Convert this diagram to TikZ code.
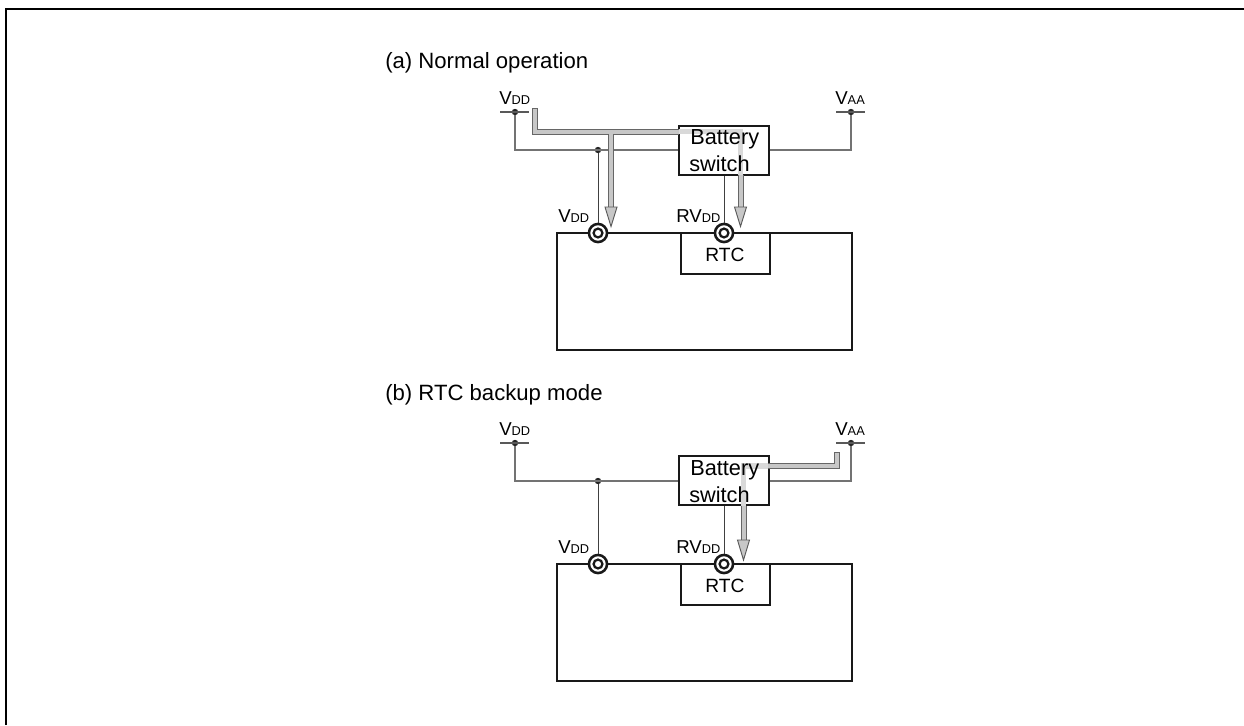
\documentclass[tikz,border=0pt]{standalone}
\usepackage{fontspec}
\setmainfont{Liberation Sans}
\newcommand{\bigsz}{\fontsize{14}{16}\selectfont}
\newcommand{\smsz}{\fontsize{9.6}{11}\selectfont}
\newcommand{\vname}[2]{{\bigsz #1\smsz #2}}
\tikzset{
  frameline/.style={line width=1.7pt,black},
  title/.style={anchor=base west,inner sep=0pt,font=\fontsize{16.6}{20}\selectfont},
  pinlabel/.style={anchor=base west,inner sep=0pt},
  boxtext/.style={anchor=base west,inner sep=0pt,font=\fontsize{16.3}{20}\selectfont},
  rtctext/.style={anchor=base,inner sep=0pt,font=\fontsize{14.4}{18}\selectfont},
  solidbox/.style={draw=black!90,line width=1.6pt,fill=white,inner sep=0pt,rectangle},
  wire/.style={draw=black!55,line width=1pt},
  thinwire/.style={draw=black!75,line width=0.7pt},
  stub/.style={draw=black!65,line width=0.8pt},
  dotnode/.style={circle,fill=black!85,inner sep=0pt,minimum size=4.8pt},
  ringouter/.style={circle,draw=black!90,line width=1.9pt,fill=white,inner sep=0pt,minimum size=13.6pt},
  ringinner/.style={circle,draw=black!90,line width=1.7pt,fill=white,inner sep=0pt,minimum size=6.6pt},
  pipeout/.style={draw=black!60,line width=4.5pt,line join=miter},
  pipein/.style={draw=black!22,line width=3pt,line join=miter},
  pipelight/.style={draw=black!15,line width=3.8pt,line join=miter},
  headst/.style={draw=black!65,fill=black!22,line width=0.7pt,line join=miter},
}
\begin{document}
\begin{tikzpicture}[x=0.75pt,y=-0.75pt]
\useasboundingbox (0,0) rectangle (1244,725);
\coordinate (fa) at (6,725);
\coordinate (fb) at (6,9);
\coordinate (fc) at (1244,9);
\draw[frameline] (fa) -- (fb) -- (fc);

% ---------- (a) ----------
\node[title] (ta) at (385,68) {(a) Normal operation};
\node[pinlabel] (lvdd1) at (499,104.5) {\vname{V}{DD}};
\node[pinlabel] (lvaa1) at (835,104.5) {\vname{V}{AA}};
\coordinate (sl1) at (500,112); \coordinate (sr1) at (529,112);
\coordinate (tl1) at (836,112); \coordinate (tr1) at (865,112);
\node[dotnode] (d1) at (515,112) {};
\node[dotnode] (e1) at (851,112) {};
\draw[stub] (sl1) -- (sr1);
\draw[stub] (tl1) -- (tr1);
\node[solidbox,minimum width=67.5pt,minimum height=37pt,anchor=north west] (bs1) at (677.5,124.5) {};
\node[solidbox,minimum width=221pt,minimum height=87.5pt,anchor=north west] (chip1) at (556,232) {};
\node[solidbox,minimum width=66.5pt,minimum height=31pt,anchor=north west] (rtc1) at (680,232) {};
\node[rtctext] (rtctxt1) at (725,261) {RTC};
\coordinate (c1a) at (515,150);
\coordinate (c1b) at (851,150);
\node[dotnode] (j1) at (598,150) {};
\draw[wire] (d1) -- (c1a) -- (bs1.west |- c1a);
\draw[wire] (bs1.east |- c1b) -- (c1b) -- (e1);
\node[ringouter] (r1) at (598,233) {};
\node[ringinner] (ri1) at (598,233) {};
\node[ringouter] (q1) at (724,233) {};
\node[ringinner] (qi1) at (724,233) {};
\draw[thinwire] (j1) -- (r1);
\draw[thinwire] (bs1.south -| q1) -- (q1);
\node[pinlabel] (lvdd1b) at (558,222) {\vname{V}{DD}};
\node[pinlabel] (lrv1) at (676,222) {\vname{RV}{DD}};
% power path
\coordinate (p1s) at (534.5,108);
\coordinate (p1c) at (534.5,131.5);
\coordinate (p1b) at (611,131.5);
\coordinate (p1h) at (611,207);
\coordinate (p1e) at (678.5,131.5);
\coordinate (p1r) at (740.5,131.5);
\coordinate (p1x) at (740.5,174.5);
\coordinate (p1y) at (740.5,207);
\draw[pipeout] (p1s) -- (p1c) -- (p1e);
\draw[pipeout] (p1b) -- (p1h);
\draw[pipeout] (p1x) -- (p1y);
\draw[pipein] ([yshift=-0.5pt]p1s) -- (p1c) -- (p1e);
\draw[pipein] (p1b) -- (p1h);
\draw[pipein] (p1x) -- (p1y);
\draw[pipelight] (p1e) -- (p1r) -- (p1x);
\draw[headst,shift={(p1h)}] (-6,0) -- (6,0) -- (0,19.5) -- cycle;
\draw[headst,shift={(p1y)}] (-6,0) -- (6,0) -- (0,19.5) -- cycle;
\node[boxtext] (bt1) at (690,144.5) {Battery};
\node[boxtext] (st1) at (689,171.5) {switch};

% ---------- (b) ----------
\node[title] (tb) at (385,400) {(b) RTC backup mode};
\node[pinlabel] (lvdd2) at (499,435.5) {\vname{V}{DD}};
\node[pinlabel] (lvaa2) at (835,435.5) {\vname{V}{AA}};
\coordinate (sl2) at (500,443); \coordinate (sr2) at (529,443);
\coordinate (tl2) at (836,443); \coordinate (tr2) at (865,443);
\node[dotnode] (d2) at (515,443) {};
\node[dotnode] (e2) at (851,443) {};
\draw[stub] (sl2) -- (sr2);
\draw[stub] (tl2) -- (tr2);
\node[solidbox,minimum width=67.5pt,minimum height=37pt,anchor=north west] (bs2) at (677.5,455) {};
\node[solidbox,minimum width=221pt,minimum height=88pt,anchor=north west] (chip2) at (556,563) {};
\node[solidbox,minimum width=66.5pt,minimum height=31pt,anchor=north west] (rtc2) at (680,563) {};
\node[rtctext] (rtctxt2) at (725,592) {RTC};
\coordinate (c2a) at (515,481);
\coordinate (c2b) at (851,481);
\node[dotnode] (j2) at (598,481) {};
\draw[wire] (d2) -- (c2a) -- (bs2.west |- c2a);
\draw[wire] (bs2.east |- c2b) -- (c2b) -- (e2);
\node[ringouter] (r2) at (598,564) {};
\node[ringinner] (ri2) at (598,564) {};
\node[ringouter] (q2) at (724,564) {};
\node[ringinner] (qi2) at (724,564) {};
\draw[thinwire] (j2) -- (r2);
\draw[thinwire] (bs2.south -| q2) -- (q2);
\node[pinlabel] (lvdd2b) at (558,553) {\vname{V}{DD}};
\node[pinlabel] (lrv2) at (676,553) {\vname{RV}{DD}};
\coordinate (p2s) at (836.5,452);
\coordinate (p2c) at (836.5,466);
\coordinate (p2e) at (768,466);
\coordinate (p2r) at (743.5,466);
\coordinate (p2x) at (743.5,506);
\coordinate (p2y) at (743.5,540);
\draw[pipeout] (p2s) -- (p2c) -- (p2e);
\draw[pipeout] (p2x) -- (p2y);
\draw[pipein] ([yshift=-0.5pt]p2s) -- (p2c) -- (p2e);
\draw[pipein] (p2x) -- (p2y);
\draw[pipelight] (p2e) -- (p2r) -- (p2x);
\draw[headst,shift={(p2y)}] (-6,0) -- (6,0) -- (0,20) -- cycle;
\node[boxtext] (bt2) at (690,475.5) {Battery};
\node[boxtext] (st2) at (689,502.5) {switch};
\end{tikzpicture}
\end{document}
